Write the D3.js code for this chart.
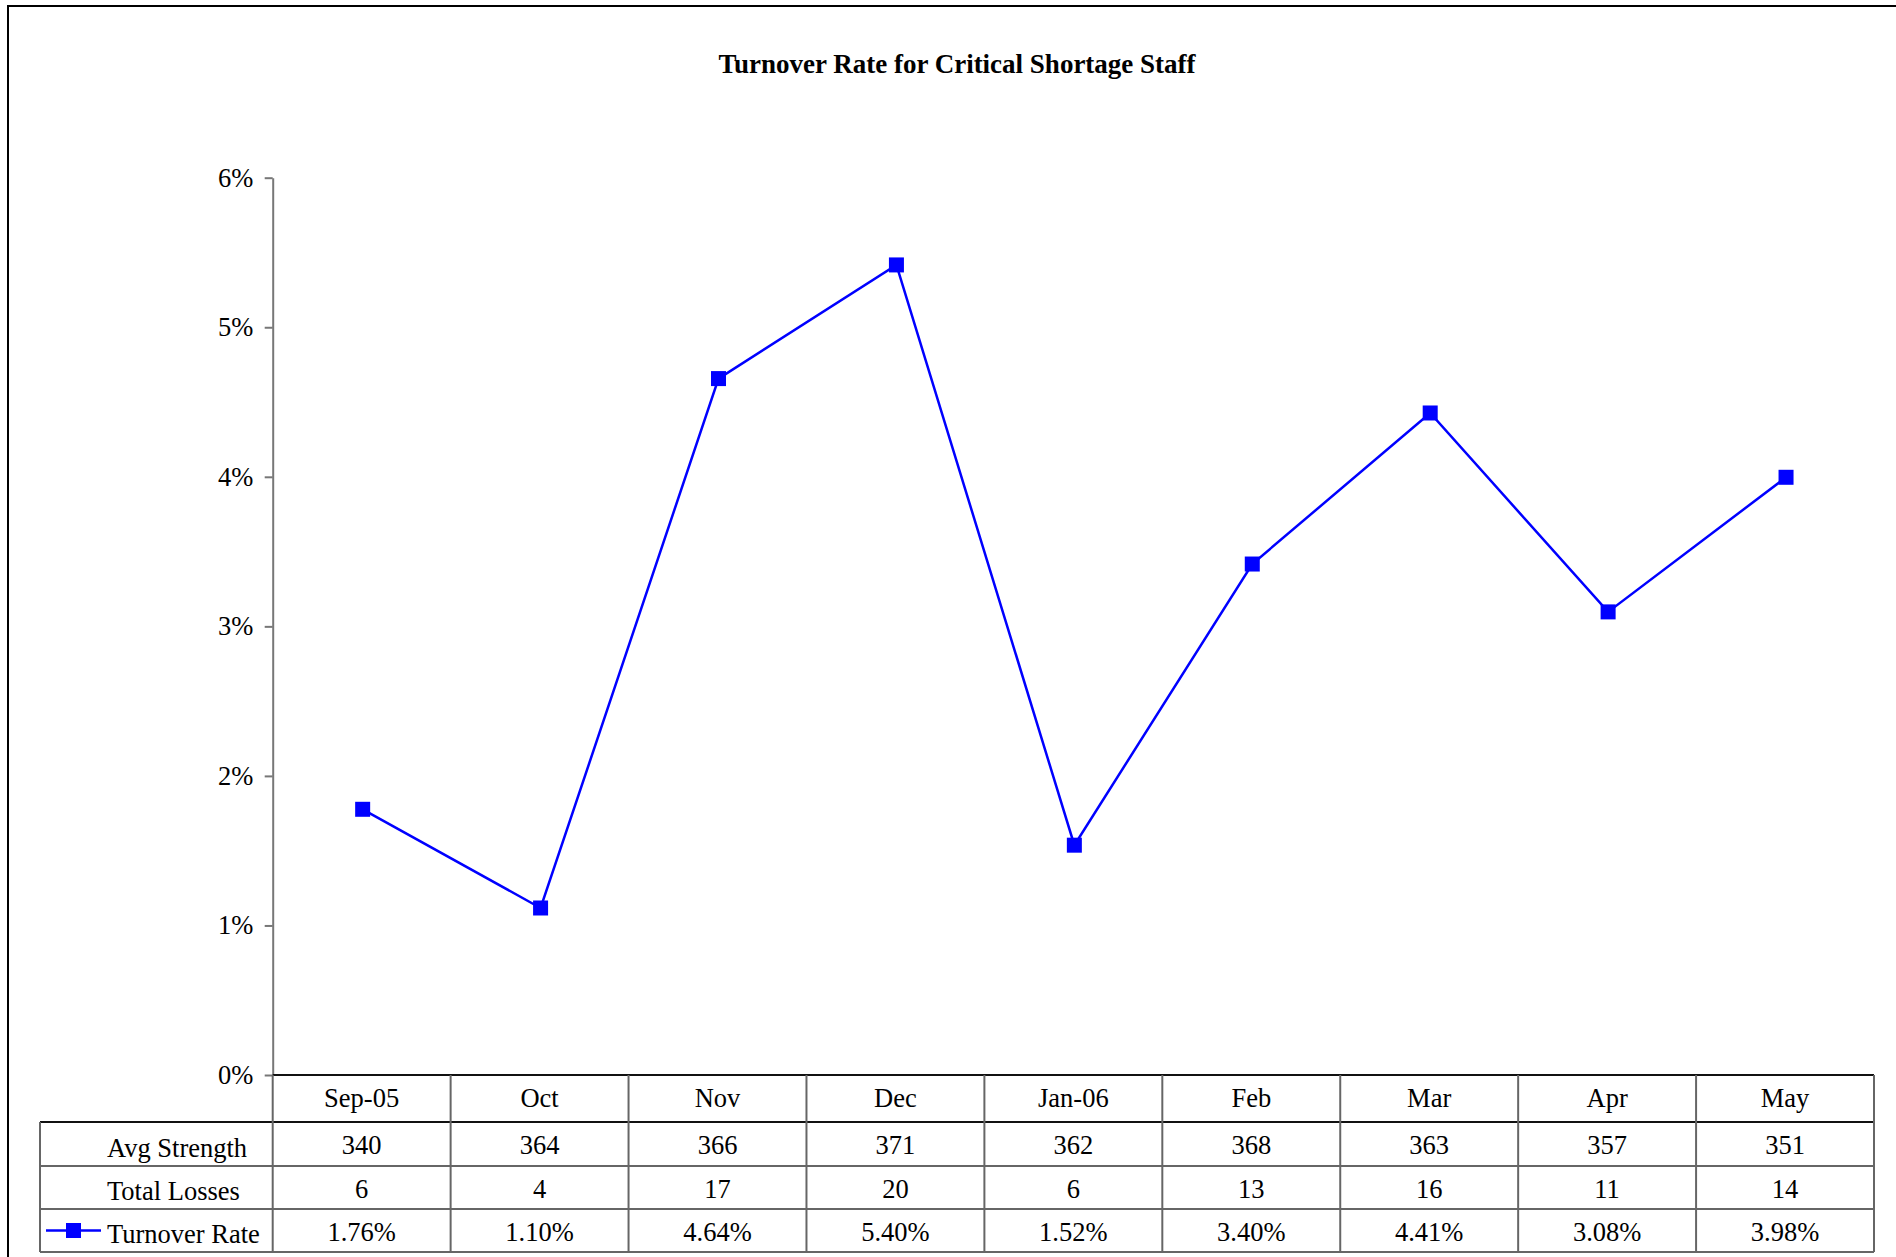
<!DOCTYPE html>
<html>
<head>
<meta charset="utf-8">
<script src="https://cdn.jsdelivr.net/npm/d3@7"></script>
<style>
html,body{margin:0;padding:0;background:#fff;}
svg{display:block;font-family:"Liberation Serif","Times New Roman",serif;}
</style>
</head>
<body>
<svg id="chart" width="1896" height="1257"></svg>
<script>
const title = "Turnover Rate for Critical Shortage Staff";
const months = ["Sep-05","Oct","Nov","Dec","Jan-06","Feb","Mar","Apr","May"];
const avgStrength = [340,364,366,371,362,368,363,357,351];
const totalLosses = [6,4,17,20,6,13,16,11,14];
const turnoverRate = [1.76,1.10,4.64,5.40,1.52,3.40,4.41,3.08,3.98];
const turnoverLabels = ["1.76%","1.10%","4.64%","5.40%","1.52%","3.40%","4.41%","3.08%","3.98%"];
const yTicks = [0,1,2,3,4,5,6];
const rowLabels = ["Avg Strength","Total Losses","Turnover Rate"];

(function(){
const svg = d3.select("#chart");
const pLeft = 272.7, pRight = 1874, pTop = 177.7, pBottom = 1075;
const tableLeft = 40;
const rowBounds = [1075, 1122, 1166, 1209, 1252];
const fs = 26.5;

svg.append("path").attr("d","M8,1257 L8,6 L1896,6")
  .attr("fill","none").attr("stroke","#000").attr("stroke-width",2);

svg.append("text").attr("x",957).attr("y",73).attr("text-anchor","middle")
  .attr("font-size",27).attr("font-weight","bold").text(title);

const x = d3.scaleBand().domain(months).range([pLeft,pRight]).padding(0);
const y = d3.scaleLinear().domain([0,6]).range([pBottom,pTop]);

const yAxis = d3.axisLeft(y).tickValues(yTicks).tickFormat(d=>d+"%").tickSize(8).tickSizeOuter(0).tickPadding(22);
const gy = svg.append("g").attr("transform",`translate(${pLeft},0)`).call(yAxis);
gy.select(".domain").attr("stroke","#777").attr("stroke-width",2);
gy.selectAll(".tick line").attr("stroke","#777").attr("stroke-width",2);
gy.selectAll(".tick text").attr("font-size",fs).attr("font-family","Liberation Serif").attr("fill","#000")
  .attr("text-anchor","start").attr("x",-(pLeft-218)).attr("dy","0.32em");

const grid = svg.append("g");
const gc = "#666";
grid.append("line").attr("x1",pLeft).attr("x2",pRight).attr("y1",rowBounds[0]).attr("y2",rowBounds[0]).attr("stroke","#111").attr("stroke-width",2);
grid.append("line").attr("x1",tableLeft).attr("x2",pRight).attr("y1",rowBounds[1]).attr("y2",rowBounds[1]).attr("stroke","#111").attr("stroke-width",2);
[2,3,4].forEach(i=>{
  grid.append("line").attr("x1",tableLeft).attr("x2",pRight).attr("y1",rowBounds[i]).attr("y2",rowBounds[i]).attr("stroke",gc).attr("stroke-width",2);
});
grid.append("line").attr("x1",tableLeft).attr("x2",tableLeft).attr("y1",rowBounds[1]).attr("y2",rowBounds[4]).attr("stroke",gc).attr("stroke-width",2);
months.forEach((m)=>{
  const xx = x(m);
  grid.append("line").attr("x1",xx).attr("x2",xx).attr("y1",rowBounds[0]).attr("y2",rowBounds[4]).attr("stroke",gc).attr("stroke-width",2);
});
grid.append("line").attr("x1",pRight).attr("x2",pRight).attr("y1",rowBounds[0]).attr("y2",rowBounds[4]).attr("stroke",gc).attr("stroke-width",2);

const cx = m => x(m) + x.bandwidth()/2;
const rows = [months, avgStrength, totalLosses, turnoverLabels];
rows.forEach((vals,r)=>{
  const mid = (rowBounds[r]+rowBounds[r+1])/2;
  svg.append("g").selectAll("text").data(vals).join("text")
    .attr("x",(d,i)=>cx(months[i])).attr("y",mid+(r===0?8.5:10))
    .attr("text-anchor","middle").attr("font-size",fs).text(d=>d);
});
rowLabels.forEach((lab,r)=>{
  const mid = (rowBounds[r+1]+rowBounds[r+2])/2;
  svg.append("text").attr("x",107).attr("y",mid+12.5).attr("font-size",fs).text(lab);
});
const ly = (rowBounds[3]+rowBounds[4])/2;
svg.append("line").attr("x1",46).attr("x2",101).attr("y1",ly).attr("y2",ly).attr("stroke","#0000ff").attr("stroke-width",2.5);
svg.append("rect").attr("x",66).attr("y",ly-7.5).attr("width",15).attr("height",15).attr("fill","#0000ff");

const series = svg.append("g").attr("transform","translate(1,-2.5)");
const line = d3.line().x((d,i)=>cx(months[i])).y(d=>y(d));
series.append("path").datum(turnoverRate).attr("d",line).attr("fill","none")
  .attr("stroke","#0000ff").attr("stroke-width",2.5);
series.append("g").selectAll("rect").data(turnoverRate).join("rect")
  .attr("x",(d,i)=>cx(months[i])-7.5).attr("y",d=>y(d)-7.5)
  .attr("width",15).attr("height",15).attr("fill","#0000ff");
})();
</script>
</body>
</html>
